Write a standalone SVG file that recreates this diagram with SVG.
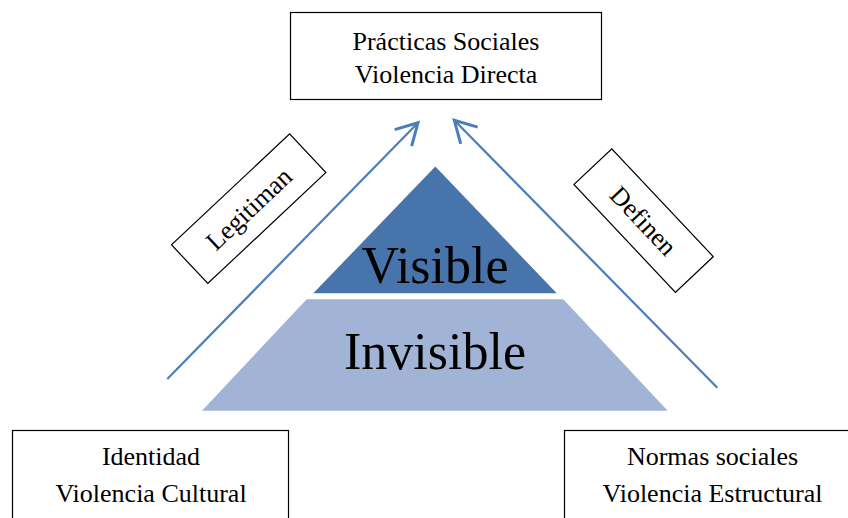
<svg xmlns="http://www.w3.org/2000/svg" width="848" height="518" viewBox="0 0 848 518" font-family="'Times New Roman', 'Liberation Serif', 'DejaVu Serif', serif">
<style>
.box{fill:#fff;stroke:#000;stroke-width:1.2}
.t{font-family:'Times New Roman','Liberation Serif','DejaVu Serif',serif;font-size:26px;fill:#000;text-anchor:middle}
.big{font-family:'Times New Roman','Liberation Serif','DejaVu Serif',serif;font-size:52px;fill:#000;text-anchor:middle}
.conn{fill:none;stroke:#4a7ebb;stroke-width:2.2}
</style>
<defs>
<marker id="arr" markerUnits="userSpaceOnUse" markerWidth="30" markerHeight="30" viewBox="-20 -12 24 24" refX="0" refY="0" orient="auto">
<path d="M -17 -9.5 L 0 0 L -17 9.5" fill="none" stroke="#4a7ebb" stroke-width="2.4"/>
</marker>
</defs>
<g id="pyramid">
<polygon points="306.7,299.3 563.3,299.3 667.7,410.7 202,410.7" fill="#a1b4d6"/>
<polygon points="435.3,166.5 556.7,293.3 313.3,293.3" fill="#4774aa"/>
<text class="big" x="435" y="283">Visible</text>
<text class="big" x="435" y="369">Invisible</text>
</g>
<g id="connectors">
<line class="conn" x1="167.3" y1="379" x2="418" y2="122.7" marker-end="url(#arr)"/>
<line class="conn" x1="717.3" y1="387.7" x2="454.3" y2="120.3" marker-end="url(#arr)"/>
</g>
<g id="top">
<rect class="box" x="290.5" y="12.5" width="311" height="87"/>
<text class="t" x="446" y="49.5">Prácticas Sociales</text>
<text class="t" x="446" y="82.5">Violencia Directa</text>
</g>
<g id="bottom-left">
<rect class="box" x="12.5" y="430.5" width="276" height="100"/>
<text class="t" x="151" y="465">Identidad</text>
<text class="t" x="151" y="501.5">Violencia Cultural</text>
</g>
<g id="bottom-right">
<rect class="box" x="564.5" y="430.5" width="296" height="100"/>
<text class="t" x="712.5" y="465">Normas sociales</text>
<text class="t" x="712.5" y="501.5">Violencia Estructural</text>
</g>
<g id="legitiman" transform="translate(248.7 208.7) rotate(-43.2)">
<rect class="box" x="-81" y="-26.5" width="162" height="53"/>
<text class="t" x="0" y="9">Legitiman</text>
</g>
<g id="definen" transform="translate(643.6 220.6) rotate(46.7)">
<rect class="box" x="-74" y="-26" width="148" height="52"/>
<text class="t" x="0" y="9">Definen</text>
</g>
</svg>
